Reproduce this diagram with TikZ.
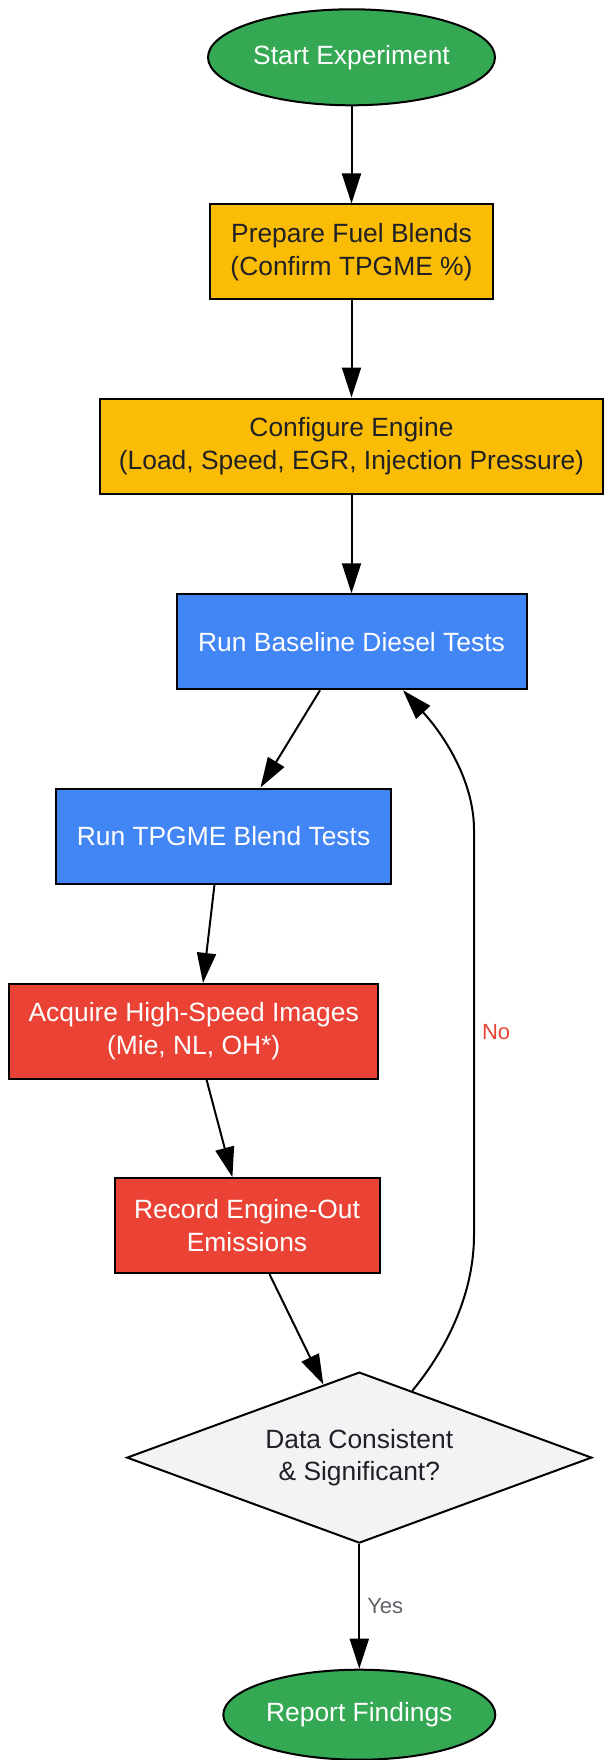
\documentclass[tikz,border=0pt]{standalone}
\usepackage{fontspec}
\setmainfont{Liberation Sans}
\usetikzlibrary{arrows.meta, shapes.geometric, positioning, calc}
\definecolor{termgreen}{HTML}{34A853}
\definecolor{prepyellow}{HTML}{FBBC05}
\definecolor{testblue}{HTML}{4285F4}
\definecolor{datared}{HTML}{EA4335}
\definecolor{checkgrey}{HTML}{F1F3F4}
\definecolor{darktext}{HTML}{202124}
\definecolor{labelgrey}{HTML}{5F6368}
\begin{document}
\begin{tikzpicture}[x = 1pt, y = 1pt,
	base/.style = {draw = black, line width = 2pt, align = center, inner sep = 0pt,
		font = \fontsize{26.4}{32.6}\selectfont},
	term/.style = {base, ellipse, fill = termgreen, text = white},
	prepbox/.style = {base, rectangle, fill = prepyellow, text = darktext, minimum height = 95pt},
	testbox/.style = {base, rectangle, fill = testblue, text = white, minimum height = 95pt},
	databox/.style = {base, rectangle, fill = datared, text = white, minimum height = 95pt},
	check/.style = {base, diamond, aspect = 2.7, fill = checkgrey, text = darktext},
	flow/.style = {draw, line width = 2pt, -{Triangle[length = 30pt, width = 19pt]}},
	edgelabel/.style = {font = \fontsize{22}{26}\selectfont, inner sep = 7pt}]
	\useasboundingbox (0, 0) rectangle (603, -1760);
	% nodes
	\node[term, minimum width = 287pt, minimum height = 96pt] (start) at (351.5, -57.3) {Start Experiment};
	\node[prepbox, minimum width = 283pt] (blends) at (351.5, -252) {Prepare Fuel Blends\\(Confirm TPGME \%)};
	\node[prepbox, minimum width = 503pt] (engine) at (351.5, -446) {Configure Engine\\(Load, Speed, EGR, Injection Pressure)};
	\node[testbox, minimum width = 350pt] (baseline) at (351.5, -641.8) {Run Baseline Diesel Tests};
	\node[testbox, minimum width = 335pt] (blendtests) at (223.5, -836) {Run TPGME Blend Tests};
	\node[databox, minimum width = 369pt] (images) at (193.7, -1031.4) {Acquire High-Speed Images\\(Mie, NL, OH*)};
	\node[databox, minimum width = 265pt] (emissions) at (247, -1225.7) {Record Engine-Out\\Emissions};
	\node[check, minimum width = 465pt, minimum height = 171pt] (consistent) at (359.3, -1457.6) {Data Consistent\\\& Significant?};
	\node[term, minimum width = 272pt, minimum height = 90pt] (report) at (359.3, -1714.7) {Report Findings};
	% connectors
	\draw[flow] (start) -- (blends);
	\draw[flow] (blends) -- (engine);
	\draw[flow] (engine.south) -- (baseline.north);
	\draw[flow] ([xshift = -31.5pt]baseline.south) -- ([xshift = 37pt]blendtests.north);
	\draw[flow] ([xshift = -9pt]blendtests.south) -- ([xshift = 9.3pt]images.north);
	\draw[flow] ([xshift = 12.9pt]images.south) -- ([xshift = -14.6pt]emissions.north);
	\draw[flow] ([xshift = 22.5pt]emissions.south) -- ($(consistent.north)!0.154!(consistent.west)$);
	\draw[flow] (consistent.south) -- node[edgelabel, right, text = labelgrey] {Yes} (report.north);
	\coordinate (loopbot) at (474, -1235);
	\coordinate (looptop) at (474, -830);
	\draw[flow] ($(consistent.north)!0.227!(consistent.east)$) .. controls (450, -1345) and (474, -1290) .. (loopbot)
		-- node[edgelabel, right, text = datared] {No} (looptop)
		.. controls (474, -780) and (443, -734) .. ([xshift = 51.5pt]baseline.south);
\end{tikzpicture}
\end{document}
